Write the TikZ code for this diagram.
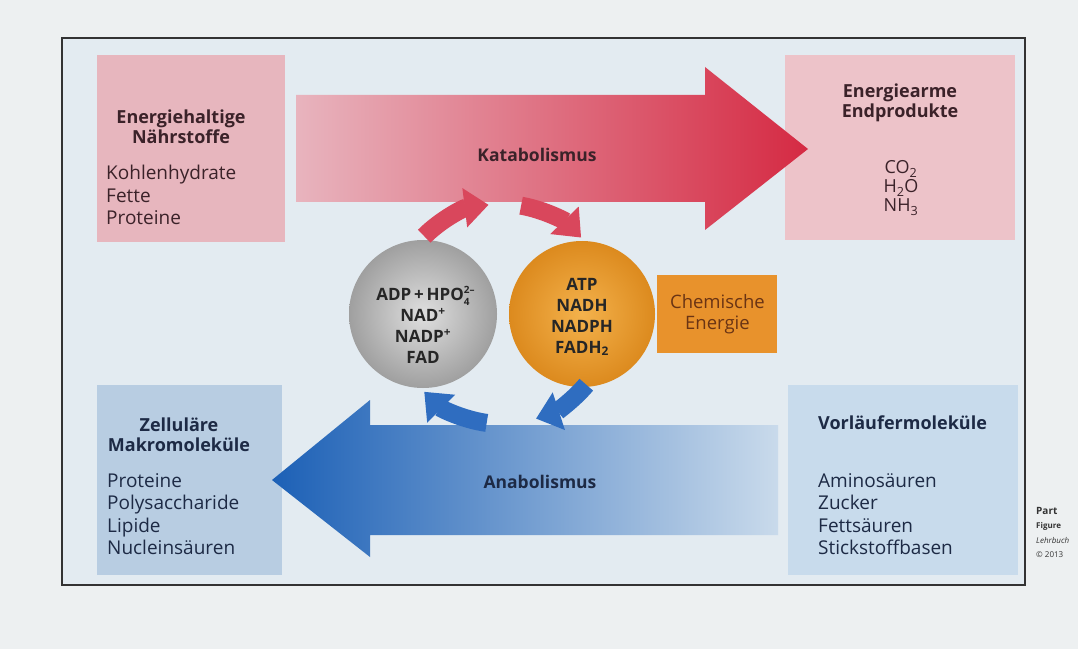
\documentclass[tikz,border=0pt]{standalone}
\usepackage{fontspec}
\setmainfont{Open Sans}
\usepackage{tikz}
\usetikzlibrary{positioning, arrows.meta}
\usepackage{xcolor}

\definecolor{paper}{HTML}{EDF0F1}
\definecolor{innerbg}{HTML}{E3EBF1}
\definecolor{boxpink}{HTML}{E7B6BE}
\definecolor{boxpinklt}{HTML}{EDC3C9}
\definecolor{katlight}{HTML}{E8B4BE}
\definecolor{katred}{HTML}{D52A43}
\definecolor{cycred}{HTML}{D9475C}
\definecolor{boxblue}{HTML}{B8CDE2}
\definecolor{boxbluelt}{HTML}{C8DBEC}
\definecolor{anablue}{HTML}{1C60B6}
\definecolor{analight}{HTML}{C9DAEB}
\definecolor{cycblue}{HTML}{2F6DC0}
\definecolor{ballin}{HTML}{F4B24C}
\definecolor{ballout}{HTML}{DC8A1E}
\definecolor{chemorange}{HTML}{E8922C}
\definecolor{inkred}{HTML}{3B2229}
\definecolor{inkblue}{HTML}{1D2A45}
\definecolor{inkbrown}{HTML}{6A3414}

\newcommand{\ionstack}[2]{\makebox[0pt][l]{\raisebox{0.8ex}{\fontsize{10}{10}\selectfont #2}}\raisebox{-0.55ex}{\fontsize{10}{10}\selectfont #1}\hspace{0.7em}}

\begin{document}
\begin{tikzpicture}[x=1pt, y=1pt,
    every node/.style={font=\fontsize{18}{22.5}\selectfont},
    heading/.style={font=\bfseries\fontsize{18}{20.5}\selectfont, align=center},
    listing/.style={align=left, anchor=west, inner sep=0pt, font=\fontsize{19}{22.5}\selectfont},
    box/.style={rectangle, inner sep=0pt},
    ballnode/.style={circle, inner sep=0pt, font=\bfseries\fontsize{17}{21}\selectfont, align=center, text=black!85},
    cycarrow/.style={line width=18pt, -{Triangle[width=38pt, length=24pt]}}]

        \useasboundingbox (0,0) rectangle (1078,649);

        % Paper and frame
        \fill[paper] (0,0) rectangle (1078,649);
        \fill[innerbg] (62,64) rectangle (1025,611);
        \draw[line width=2pt, black!80] (62,64) rectangle (1025,611);

        % Boxes
        \node[box, fill=boxpink, minimum width=188pt, minimum height=187pt] (naehr) at (191,500.5) {};
        \node[box, fill=boxpinklt, minimum width=230pt, minimum height=185pt] (endprod) at (900,501.5) {};
        \node[box, fill=boxblue, minimum width=185pt, minimum height=190pt] (makro) at (189.5,169) {};
        \node[box, fill=boxbluelt, minimum width=230pt, minimum height=190pt] (vorl) at (903,169) {};

        % Big arrows
        \shade[left color=katlight, right color=katred] (296,447) -- (705,447) -- (705,419) -- (808,500)
            -- (705,582) -- (705,554) -- (296,554) -- cycle;
        \shade[left color=anablue, right color=analight] (778,114) -- (370,114) -- (370,92) -- (272,169)
            -- (370,249) -- (370,224) -- (778,224) -- cycle;
        \node[font=\bfseries\fontsize{17.5}{20}\selectfont, text=inkred] (kat) at (537,494) {Katabolismus};
        \node[font=\bfseries\fontsize{17.5}{20}\selectfont, text=inkblue] (ana) at (540,167) {Anabolismus};

        % Spheres
        \node[ballnode, minimum size=148pt, inner color=gray!25, outer color=gray!75] (adp) at (423,335) {};
        \node[ballnode, minimum size=146pt, inner color=ballin, outer color=ballout] (atp) at (582,335) {};
        \node[ballnode] (adptext) at (423,324) {ADP\,+\,HPO\ionstack{4}{2–}\\NAD\textsuperscript{+}\\NADP\textsuperscript{+}\\FAD};
        \node[ballnode] (atptext) at (582,332) {ATP\\NADH\\NADPH\\FADH\textsubscript{2}};

        % Chemische Energie
        \node[box, fill=chemorange, minimum width=120pt, minimum height=78pt, text=inkbrown,
            align=center, font=\fontsize{18.5}{21}\selectfont, right=2pt of atp] (chem) {Chemische\\Energie};

        % Cycle
        \coordinate (cyc) at (502,335);
        \draw[cycarrow, cycred] ([shift={(135:110)}]cyc) arc[start angle=135, end angle=97, radius=110];
        \draw[cycarrow, cycred] ([shift={(80:110)}]cyc) arc[start angle=80, end angle=44, radius=110];
        \draw[cycarrow, cycblue] ([shift={(-40:110)}]cyc) arc[start angle=-40, end angle=-72, radius=110];
        \draw[cycarrow, cycblue] ([shift={(-98:110)}]cyc) arc[start angle=-98, end angle=-135, radius=110];

        % Box texts
        \node[heading, text=inkred] (naehrhead) at (181,522) {Energiehaltige\\Nährstoffe};
        \node[listing, text=inkred] (naehrlist) at (106,454) {Kohlenhydrate\\Fette\\Proteine};
        \node[heading, text=inkred] (endhead) at (900,546) {Energiearme\\Endprodukte};
        \node[align=center, inner sep=0pt, text=inkred, font=\fontsize{18}{19}\selectfont] (endlist) at (901,461)
            {CO\textsubscript{2}\\H\textsubscript{2}O\\NH\textsubscript{3}};
        \node[heading, text=inkblue] (makrohead) at (179,214.5) {Zelluläre\\Makromoleküle};
        \node[listing, text=inkblue] (makrolist) at (107,135) {Proteine\\Polysaccharide\\Lipide\\Nucleinsäuren};
        \node[heading, text=inkblue, anchor=west, inner sep=0pt] (vorlhead) at (818,226) {Vorläufermoleküle};
        \node[listing, text=inkblue] (vorllist) at (818,135) {Aminosäuren\\Zucker\\Fettsäuren\\Stickstoffbasen};

        % Credit (cut off at the page edge)
        \begin{scope}
            \clip (1026,60) rectangle (1078,160);
            \node[anchor=north west, align=left, inner sep=0pt, text=black!80,
                font=\fontsize{8}{14.5}\selectfont] (credit) at (1036,142)
                {\textbf{\fontsize{10}{12}\selectfont Part}\\\textbf{Figure}\\\textit{Lehrbuch}\\© 2013};
        \end{scope}
    \end{tikzpicture}
\end{document}
